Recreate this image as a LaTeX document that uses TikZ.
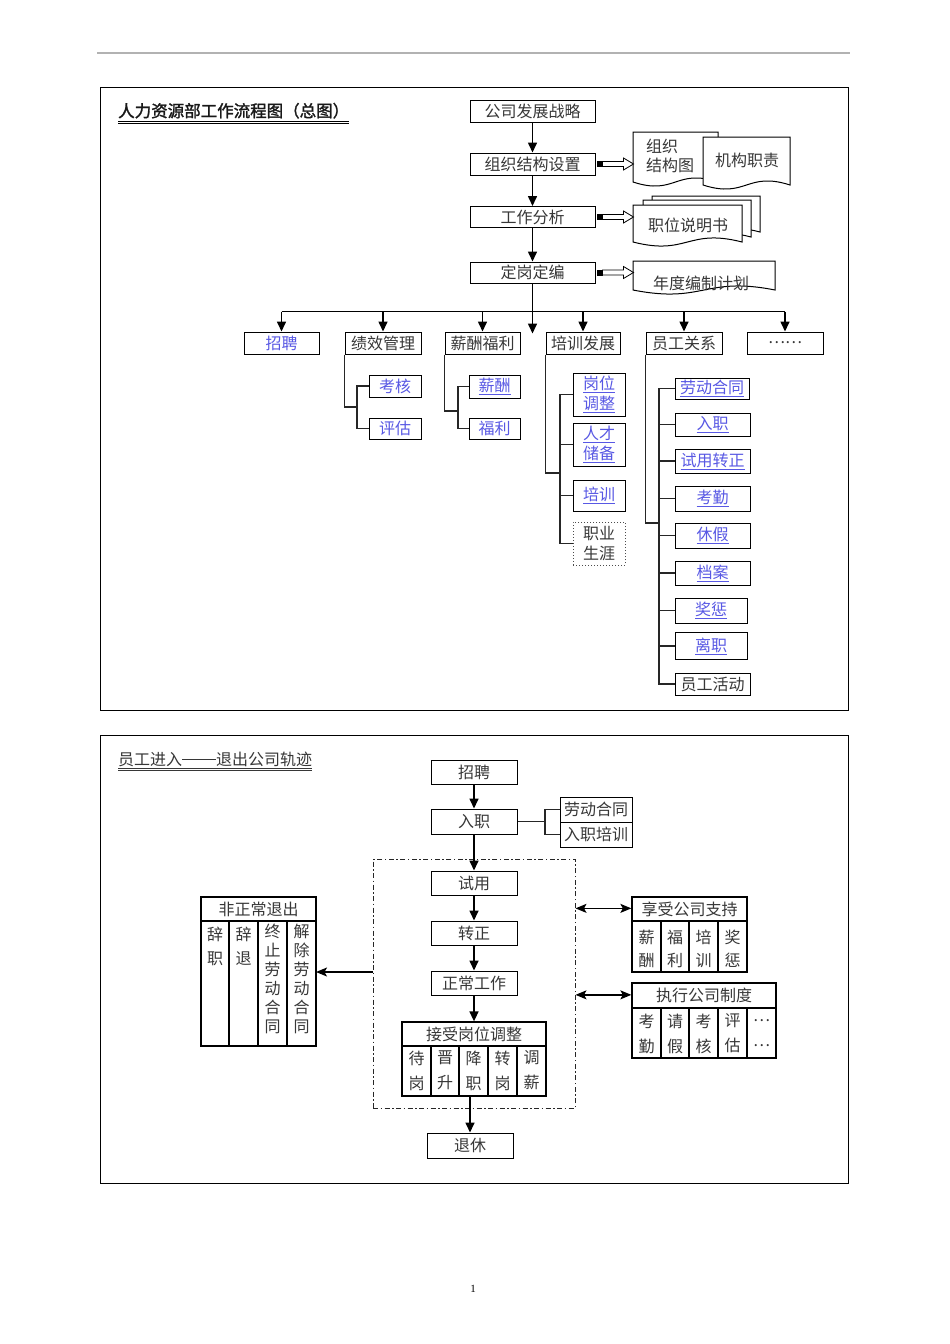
\documentclass[tikz,border=0pt]{standalone}
\usepackage{fontspec}
\setmainfont{Noto Sans CJK SC}
\newfontfamily\cjkbold[FakeBold=1.6]{Noto Sans CJK SC}
\newfontfamily\numfont{Liberation Serif}
\usetikzlibrary{arrows.meta,calc}
\definecolor{txt}{RGB}{55,55,55}
\definecolor{lnk}{RGB}{88,88,228}
\newcommand\ul[1]{\underline{#1}}
\newcommand\barrow[2]{%
  \fill[black] ($(#1)+(1,-3)$) rectangle ($(#1)+(7,3)$);
  \draw[line width=0.8pt, fill=white] ($(#1)+(7,-2.5)$) -- ($(#2)+(-10,-2.5)$) -- ($(#2)+(-10,-6)$) -- (#2) -- ($(#2)+(-10,6)$) -- ($(#2)+(-10,2.5)$) -- ($(#1)+(7,2.5)$) -- cycle;}
\begin{document}
\begin{tikzpicture}[x=1pt,y=-1pt, font=\fontsize{16}{19}\selectfont, text=txt,
  box/.style={draw=black, line width=1pt, inner sep=0pt, text=txt},
  lk/.style={text=lnk},
  main/.style={line width=1.6pt, black},
  arr/.style={main, -{Triangle[length=10pt,width=9pt]}},
  tree/.style={line width=1.3pt, black!85},
  docs/.style={draw=black, line width=1pt, fill=white},
  tbl/.style={draw=black, line width=1.3pt, inner sep=0pt},
  darr/.style={line width=1.3pt, {Stealth[length=11pt,width=9pt,inset=2.5pt]}-{Stealth[length=11pt,width=9pt,inset=2.5pt]}},
  larr/.style={line width=1.3pt, -{Stealth[length=11pt,width=9pt,inset=2.5pt]}},
  cell/.style={inner sep=0pt, align=center, text=txt},
  rtwo/.style={box, minimum height=22},
  sub/.style={box, minimum width=52},
  emp/.style={box, minimum width=75}
]
\useasboundingbox (0,0) rectangle (950,1344);
\fill[white] (0,0) rectangle (950,1344);

% page rule and frames
\draw[gray!60, line width=1.5pt] (97,53) -- (850,53);
\draw[line width=1pt] (100,87) rectangle (848,710);
\draw[line width=1pt] (100,735) rectangle (848,1183);

% ---------- top section ----------
\node[anchor=base west, inner sep=0pt, font=\cjkbold\fontsize{16.5}{19}\selectfont, text=black!90] (t1) at (118,117) {人力资源部工作流程图（总图）};
\draw[line width=0.8pt] ($(t1.base west)+(0,4)$) -- ($(t1.base east)+(0,4)$);
\draw[line width=0.8pt] ($(t1.base west)+(0,6.5)$) -- ($(t1.base east)+(0,6.5)$);

\node[box, minimum width=125, minimum height=22] (gs) at (532.5,111) {公司发展战略};
\node[box, minimum width=125, minimum height=22] (zz) at (532.5,164) {组织结构设置};
\node[box, minimum width=125, minimum height=21] (gz) at (532.5,217) {工作分析};
\node[box, minimum width=125, minimum height=21] (dg) at (532.5,272.5) {定岗定编};
\draw[arr] (gs) -- (zz);
\draw[arr] (zz) -- (gz);
\draw[arr] (gz) -- (dg);

% documents
\draw[docs] (633,132) -- (718,132) -- (718,182) .. controls (675.5,168) and (675.5,196) .. (633,182) -- cycle;
\draw[docs] (703,137) -- (790,137) -- (790,185) .. controls (746.5,171) and (746.5,199) .. (703,185) -- cycle;
\draw[docs] (652,196) -- (760,196) -- (760,232) .. controls (706,218) and (706,246) .. (652,232) -- cycle;
\draw[docs] (643,200) -- (751,200) -- (751,237) .. controls (697,223) and (697,251) .. (643,237) -- cycle;
\draw[docs] (633,205) -- (742,205) -- (742,242) .. controls (687.5,228) and (687.5,256) .. (633,242) -- cycle;
\draw[docs] (633,261) -- (775,261) -- (775,290) .. controls (704,276) and (704,304) .. (633,290) -- cycle;
\node[anchor=west, align=left, inner sep=0pt] (zzt) at (646,155.5) {组织\\结构图};
\node[inner sep=0pt] (jgt) at (747,160) {机构职责};
\node[inner sep=0pt] (zwt) at (688,225) {职位说明书};
\node[inner sep=0pt] (ndt) at (701,283) {年度编制计划};

\coordinate (a1) at ($(zz.east)+(38,0)$);
\coordinate (a2) at ($(gz.east)+(38,0)$);
\coordinate (a3) at ($(dg.east)+(38,0)$);
\barrow{zz.east}{a1}
\barrow{gz.east}{a2}
\barrow{dg.east}{a3}

% second row
\node[rtwo, minimum width=75, lk] (zp) at (281.5,343) {招聘};
\node[rtwo, minimum width=76] (jx) at (383,343) {绩效管理};
\node[rtwo, minimum width=75] (xc) at (482.5,343) {薪酬福利};
\node[rtwo, minimum width=74] (px) at (583,343) {培训发展};
\node[rtwo, minimum width=76] (yg) at (684,343) {员工关系};
\node[rtwo, minimum width=76] (more) at (785,343) {……};

\coordinate (bus) at ($(dg.south)+(0,28)$);
\coordinate (ctip) at ($(dg.south)+(0,50)$);
\draw[main] (dg.south) -- (bus);
\draw[arr] (bus) -- (ctip);
\draw[main] (zp.north |- bus) -- (more.north |- bus);
\foreach \n in {zp,jx,xc,px,yg,more} \draw[arr] (\n.north |- bus) -- (\n.north);

% 绩效管理 children
\node[sub, minimum height=22, lk] (kh) at (395,386) {考核};
\node[sub, minimum height=21, lk] (pg) at (395,428.5) {评估};
\coordinate (j1) at (357,407);
\draw[tree] (jx.south west) |- (j1);
\draw[tree] (kh.west) -| (j1);
\draw[tree] (pg.west) -| (j1);

% 薪酬福利 children
\node[box, minimum width=51, minimum height=23, lk] (xc1) at (494.5,386.5) {\ul{薪酬}};
\node[box, minimum width=51, minimum height=21, lk] (fl) at (494.5,428.5) {福利};
\coordinate (j2) at (458,411);
\draw[tree] (xc.south west) |- (j2);
\draw[tree] (xc1.west) -| (j2);
\draw[tree] (fl.west) -| (j2);

% 培训发展 children
\node[sub, minimum height=43, lk, align=center, font=\fontsize{16}{20}\selectfont] (gw) at (599,394.5) {\ul{岗位}\\\ul{调整}};
\node[sub, minimum height=43, lk, align=center, font=\fontsize{16}{20}\selectfont] (rc) at (599,444.5) {\ul{人才}\\\ul{储备}};
\node[sub, minimum height=31, lk] (px1) at (599,495.5) {\ul{培训}};
\node[draw=black!70, dotted, line width=1pt, inner sep=0pt, minimum width=52, minimum height=43, align=center, text=txt, font=\fontsize{16}{20}\selectfont] (zy) at (599,543.5) {职业\\生涯};
\coordinate (j3) at (560,473);
\draw[tree] (px.south west) |- (j3);
\foreach \n in {gw,rc,px1,zy} \draw[tree] (\n.west) -| (j3);

% 员工关系 children
\node[box, minimum width=74, minimum height=21, lk] (ld) at (712,388.5) {\ul{劳动合同}};
\node[emp, minimum height=23, lk] (rz) at (712.5,424.5) {\ul{入职}};
\node[emp, minimum height=24, lk] (sy) at (712.5,461) {\ul{试用转正}};
\node[emp, minimum height=25, lk] (kq) at (712.5,498.5) {\ul{考勤}};
\node[emp, minimum height=25, lk] (xj) at (712.5,535.5) {\ul{休假}};
\node[emp, minimum height=24, lk] (da) at (712.5,573) {\ul{档案}};
\node[box, minimum width=72, minimum height=25, lk] (jc) at (711,610.5) {\ul{奖惩}};
\node[box, minimum width=72, minimum height=27, lk] (lz) at (711,646) {\ul{离职}};
\node[emp, minimum height=22] (hd) at (712.5,684) {员工活动};
\coordinate (j4) at (659,523);
\draw[tree] (yg.south west) |- (j4);
\foreach \n in {ld,rz,sy,kq,xj,da,jc,lz,hd} \draw[tree] (\n.west) -| (j4);

% ---------- bottom section ----------
\node[anchor=base west, inner sep=0pt, text=txt] (t2) at (118,765) {员工进入\rule[5.5pt]{34pt}{0.8pt}退出公司轨迹};
\draw[line width=0.7pt, txt] ($(t2.base west)+(0,3)$) -- ($(t2.base east)+(0,3)$);
\draw[line width=0.7pt, txt] ($(t2.base west)+(0,5.5)$) -- ($(t2.base east)+(0,5.5)$);

\node[draw=black!85, line width=1pt, dash pattern=on 5pt off 2.5pt on 1.5pt off 2.5pt, minimum width=202, minimum height=249, inner sep=0pt] (dd) at (474,983.5) {};

\node[box, minimum width=86, minimum height=24] (b1) at (474,772) {招聘};
\node[box, minimum width=86, minimum height=25] (b2) at (474,821.5) {入职};
\node[box, minimum width=86, minimum height=24] (b3) at (474,883) {试用};
\node[box, minimum width=86, minimum height=24] (b4) at (474,933) {转正};
\node[box, minimum width=86, minimum height=24] (b5) at (474,983) {正常工作};
\node[box, minimum width=86, minimum height=25] (tx) at (470,1145.5) {退休};

% 接受岗位调整 table
\node[tbl, minimum width=144, minimum height=74] (tz) at (474,1059) {};
\draw[tbl] (402,1046) -- (546,1046);
\foreach \x in {431,459,488,517} \draw[tbl] (\x,1046) -- (\x,1096);
\node[cell] (tzh) at (474,1034) {接受岗位调整};
\node[cell, font=\fontsize{16}{25}\selectfont] (tz1) at (416.5,1070.5) {待\\岗};
\node[cell, font=\fontsize{16}{25}\selectfont] (tz2) at (445,1070.5) {晋\\升};
\node[cell, font=\fontsize{16}{25}\selectfont] (tz3) at (473.5,1070.5) {降\\职};
\node[cell, font=\fontsize{16}{25}\selectfont] (tz4) at (502.5,1070.5) {转\\岗};
\node[cell, font=\fontsize{16}{25}\selectfont] (tz5) at (531.5,1070.5) {调\\薪};

\draw[arr] (b1) -- (b2);
\draw[arr] (b2) -- (b3);
\draw[arr] (b3) -- (b4);
\draw[arr] (b4) -- (b5);
\draw[arr] (b5) -- (tz);
\draw[arr] (tz.south -| tx.north) -- (tx.north);

% 劳动合同 / 入职培训
\node[box, minimum width=72, minimum height=25] (lda) at (596,809.5) {劳动合同};
\node[box, minimum width=72, minimum height=25] (ldb) at (596,834.5) {入职培训};
\coordinate (lj) at (545,821.5);
\draw[tree] (b2.east) -- (lj);
\draw[tree] (lda.west) -| (lj);
\draw[tree] (ldb.west) -| (lj);

% 非正常退出 table
\node[tbl, minimum width=115, minimum height=149] (fc) at (258.5,971.5) {};
\draw[tbl] (201,921) -- (316,921);
\foreach \x in {229,258,287} \draw[tbl] (\x,921) -- (\x,1046);
\node[cell] (fch) at (258.5,909) {非正常退出};
\node[cell, anchor=north, font=\fontsize{16}{24}\selectfont] (fc1) at (215,927) {辞\\职};
\node[cell, anchor=north, font=\fontsize{16}{24}\selectfont] (fc2) at (243.5,927) {辞\\退};
\node[cell, anchor=north, font=\fontsize{16}{19}\selectfont] (fc3) at (272.5,924) {终\\止\\劳\\动\\合\\同};
\node[cell, anchor=north, font=\fontsize{16}{19}\selectfont] (fc4) at (301.5,924) {解\\除\\劳\\动\\合\\同};
\coordinate (fca) at (316,972);
\draw[larr] (dd.west |- fca) -- (fca);

% 享受公司支持 table
\node[tbl, minimum width=115, minimum height=75] (xs) at (689.5,934.5) {};
\draw[tbl] (632,921) -- (747,921);
\foreach \x in {661,689,718} \draw[tbl] (\x,921) -- (\x,972);
\node[cell] (xsh) at (689.5,909) {享受公司支持};
\node[cell, font=\fontsize{16}{23}\selectfont] (xs1) at (646.5,948.5) {薪\\酬};
\node[cell, font=\fontsize{16}{23}\selectfont] (xs2) at (675,948.5) {福\\利};
\node[cell, font=\fontsize{16}{23}\selectfont] (xs3) at (703.5,948.5) {培\\训};
\node[cell, font=\fontsize{16}{23}\selectfont] (xs4) at (732.5,948.5) {奖\\惩};
\coordinate (xsa) at ($(xs.north west)+(0,12)$);
\draw[darr] (dd.east |- xsa) -- (xsa);

% 执行公司制度 table
\node[tbl, minimum width=144, minimum height=75] (zx) at (704,1020.5) {};
\draw[tbl] (632,1008) -- (776,1008);
\foreach \x in {661,689,718,747} \draw[tbl] (\x,1008) -- (\x,1058);
\node[cell] (zxh) at (704,995.5) {执行公司制度};
\node[cell, font=\fontsize{16}{25}\selectfont] (zx1) at (646.5,1033.5) {考\\勤};
\node[cell, font=\fontsize{16}{25}\selectfont] (zx2) at (675,1033.5) {请\\假};
\node[cell, font=\fontsize{16}{25}\selectfont] (zx3) at (703.5,1033.5) {考\\核};
\node[cell, font=\fontsize{16}{25}\selectfont] (zx4) at (732.5,1033.5) {评\\估};
\node[cell, font=\fontsize{16}{25}\selectfont] (zx5) at (761.5,1033.5) {…\\…};
\coordinate (zxa) at ($(zx.north west)+(0,12.5)$);
\draw[darr] (dd.east |- zxa) -- (zxa);

% page number
\node[font=\numfont\fontsize{11}{13}\selectfont, text=black] (pn) at (473,1289) {1};
\end{tikzpicture}
\end{document}
